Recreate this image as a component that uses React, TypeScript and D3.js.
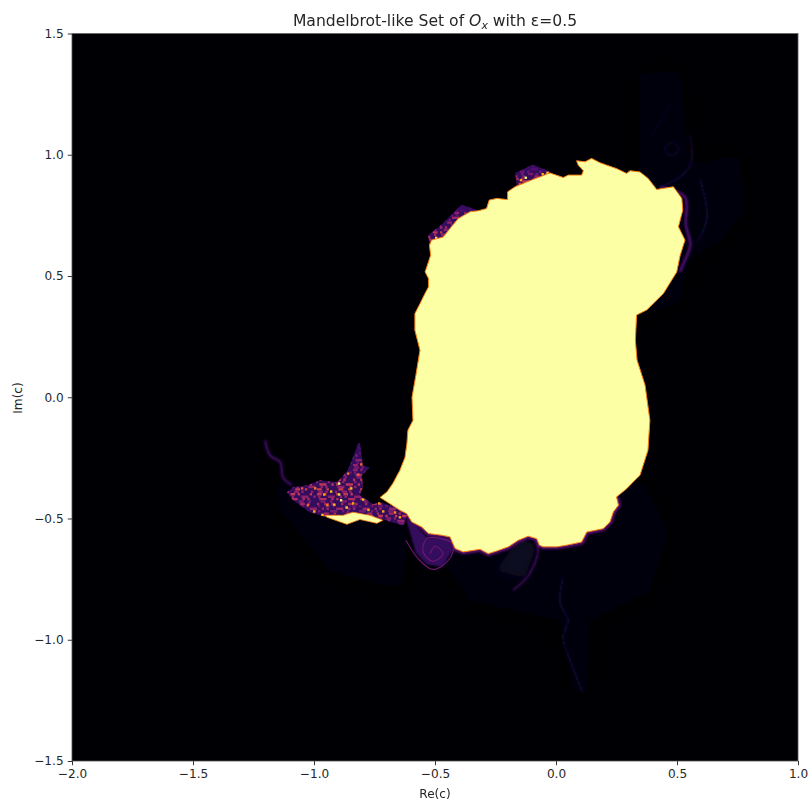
import * as d3 from "d3";
import { useEffect, useRef } from "react";

type Pt = number[];

const xTicks = [-2.0, -1.5, -1.0, -0.5, 0.0, 0.5, 1.0];
const yTicks = [-1.5, -1.0, -0.5, 0.0, 0.5, 1.0, 1.5];

// main filled body, [re, im]
const bodyOutline: Pt[] = [
  [0.085, 0.975], [0.12, 0.971], [0.147, 0.985], [0.182, 0.967], [0.21, 0.957], [0.25, 0.943],
  [0.292, 0.923], [0.306, 0.934], [0.347, 0.929], [0.381, 0.902], [0.416, 0.857], [0.485, 0.868],
  [0.52, 0.82], [0.524, 0.772], [0.506, 0.703], [0.533, 0.648], [0.513, 0.585], [0.499, 0.517],
  [0.444, 0.428], [0.375, 0.36], [0.333, 0.339], [0.328, 0.235], [0.335, 0.153], [0.368, 0.05],
  [0.388, -0.095], [0.38, -0.219], [0.347, -0.322], [0.326, -0.342], [0.292, -0.377], [0.25, -0.411],
  [0.258, -0.445], [0.237, -0.473], [0.223, -0.514], [0.195, -0.542], [0.127, -0.556], [0.106, -0.597],
  [0.044, -0.61], [0.003, -0.617], [-0.053, -0.617], [-0.069, -0.61], [-0.08, -0.583], [-0.115, -0.573],
  [-0.156, -0.59], [-0.197, -0.617], [-0.245, -0.634], [-0.28, -0.645], [-0.314, -0.627], [-0.383, -0.638],
  [-0.417, -0.624], [-0.438, -0.576], [-0.473, -0.569], [-0.527, -0.562], [-0.555, -0.535], [-0.596, -0.514],
  [-0.617, -0.48], [-0.645, -0.466], [-0.727, -0.413], [-0.698, -0.39], [-0.674, -0.355], [-0.645, -0.301],
  [-0.624, -0.248], [-0.616, -0.19], [-0.612, -0.136], [-0.591, -0.095], [-0.595, 0.0], [-0.579, 0.091],
  [-0.562, 0.194], [-0.583, 0.276], [-0.583, 0.345], [-0.562, 0.386], [-0.545, 0.421], [-0.527, 0.455],
  [-0.527, 0.49], [-0.541, 0.517], [-0.527, 0.558], [-0.518, 0.586], [-0.523, 0.627], [-0.514, 0.648],
  [-0.466, 0.661], [-0.438, 0.696], [-0.404, 0.737], [-0.355, 0.765], [-0.321, 0.769], [-0.287, 0.778],
  [-0.276, 0.813], [-0.245, 0.82], [-0.2, 0.815], [-0.2, 0.847], [-0.169, 0.868], [-0.121, 0.888],
  [-0.066, 0.909], [-0.025, 0.925], [0.03, 0.906], [0.051, 0.916], [0.106, 0.916], [0.113, 0.934],
  [0.092, 0.957],
];

// the lower rim of the body that glows, same coordinates as above
const bottomRim: Pt[] = bodyOutline.slice(29, 56);

const lensOutline: Pt[] = [
  [-0.955, -0.487], [-0.88, -0.487], [-0.839, -0.474], [-0.769, -0.487], [-0.715, -0.507],
  [-0.74, -0.52], [-0.81, -0.504], [-0.864, -0.524], [-0.946, -0.495],
];

const tailOutline: Pt[] = [
  [-0.81, -0.19], [-0.798, -0.281], [-0.769, -0.29], [-0.802, -0.322], [-0.798, -0.371], [-0.81, -0.404],
  [-0.756, -0.441], [-0.727, -0.433], [-0.657, -0.454], [-0.616, -0.487], [-0.63, -0.53], [-0.715, -0.504],
  [-0.864, -0.495], [-0.946, -0.495], [-1.017, -0.474], [-1.087, -0.425], [-1.112, -0.392],
  [-1.087, -0.371], [-1.025, -0.363], [-0.975, -0.342], [-0.905, -0.351], [-0.86, -0.301], [-0.839, -0.248],
  [-0.818, -0.19],
];
const tailLower: Pt[] = [
  [-0.62, -0.5], [-0.574, -0.536], [-0.533, -0.578], [-0.438, -0.578], [-0.426, -0.63], [-0.47, -0.7],
  [-0.533, -0.69], [-0.58, -0.64], [-0.6, -0.57],
];

const fringeTop: Pt[] = [[-0.169, 0.925], [-0.095, 0.96], [-0.025, 0.93], [-0.037, 0.91], [-0.161, 0.865]];
const fringeLeft: Pt[] = [
  [-0.529, 0.668], [-0.467, 0.718], [-0.39, 0.795], [-0.326, 0.771], [-0.438, 0.66], [-0.521, 0.619],
];

// faint glow regions
const hazeRight: Pt[] = [
  [0.347, 1.33], [0.512, 1.35], [0.554, 0.938], [0.76, 1.02], [0.78, 0.77], [0.68, 0.648],
  [0.55, 0.565], [0.512, 0.4], [0.347, 0.32],
];
const hazeBottom: Pt[] = [
  [-0.645, -0.507], [-0.438, -0.713], [-0.355, -0.837], [0.017, -0.92], [0.058, -1.209], [0.14, -1.209],
  [0.14, -0.92], [0.388, -0.797], [0.471, -0.549], [0.347, -0.342],
];
const hazeTail: Pt[] = [
  [-1.215, -0.157], [-1.099, -0.342], [-0.81, -0.383], [-0.603, -0.549], [-0.645, -0.796],
  [-0.934, -0.714], [-1.14, -0.466],
];
const hazeLobe: Pt[] = [[-0.149, -0.578], [-0.079, -0.611], [-0.128, -0.747], [-0.252, -0.714]];

// thin filaments
const lobeEdge: Pt[] = [[-0.074, -0.602], [-0.079, -0.66], [-0.12, -0.743], [-0.178, -0.796]];
const trailDown: Pt[] = [[0.029, -0.743], [0.017, -0.85], [0.05, -0.92], [0.029, -0.99], [0.07, -1.114], [0.112, -1.221]];
const spiral: Pt[] = [
  [-0.62, -0.59], [-0.57, -0.665], [-0.508, -0.71], [-0.438, -0.664], [-0.426, -0.606], [-0.479, -0.582],
  [-0.533, -0.582], [-0.55, -0.635], [-0.508, -0.677], [-0.467, -0.644], [-0.5, -0.615], [-0.52, -0.644],
];
const topRing: Pt[] = [[0.479, 1.053], [0.508, 1.024], [0.479, 0.995], [0.45, 1.024], [0.479, 1.053]];
const topArc: Pt[] = [[0.554, 1.081], [0.558, 0.965], [0.512, 0.908], [0.43, 0.866]];
const topStrand: Pt[] = [[0.479, 1.213], [0.417, 1.114], [0.388, 1.069]];
const rightEdge: Pt[] = [[0.43, 0.866], [0.533, 0.825], [0.537, 0.71], [0.555, 0.627], [0.524, 0.545], [0.512, 0.516]];
const rightStar: Pt[] = [[0.595, 0.899], [0.624, 0.743], [0.583, 0.635]];
const tailWisp: Pt[] = [[-1.202, -0.177], [-1.182, -0.239], [-1.14, -0.268], [-1.128, -0.33], [-1.091, -0.363]];

// speckle rows clipped to the fringes, [im, value]
const tailRows: Pt[] = [
  [-0.19, 0.22], [-0.2, 0.28], [-0.21, 0.24], [-0.22, 0.3], [-0.23, 0.26], [-0.24, 0.34], [-0.25, 0.3], [-0.26, 0.36],
  [-0.27, 0.3], [-0.28, 0.4], [-0.29, 0.34], [-0.3, 0.38], [-0.31, 0.32], [-0.32, 0.42], [-0.33, 0.36], [-0.34, 0.48],
  [-0.35, 0.38], [-0.36, 0.5], [-0.37, 0.4], [-0.38, 0.54], [-0.39, 0.38], [-0.4, 0.5], [-0.41, 0.38], [-0.42, 0.46],
  [-0.43, 0.34], [-0.44, 0.44], [-0.45, 0.3], [-0.46, 0.4], [-0.47, 0.32], [-0.48, 0.44], [-0.49, 0.5], [-0.5, 0.36],
  [-0.51, 0.4], [-0.52, 0.34],
];
const topRows: Pt[] = [
  [0.87, 0.62], [0.88, 0.56], [0.89, 0.5], [0.9, 0.46], [0.91, 0.4], [0.92, 0.34], [0.93, 0.3], [0.94, 0.24], [0.95, 0.2],
];
const leftRows: Pt[] = [
  [0.62, 0.58], [0.63, 0.52], [0.64, 0.56], [0.65, 0.5], [0.66, 0.46], [0.67, 0.4], [0.68, 0.5], [0.69, 0.36],
  [0.7, 0.44], [0.71, 0.34], [0.72, 0.4], [0.73, 0.3], [0.74, 0.42], [0.75, 0.28], [0.76, 0.38], [0.77, 0.24], [0.78, 0.2],
];
const rowDashes = ["2.4 4.8 4.8 2.4 2.4 7.2", "4.8 2.4 2.4 9.6 2.4 4.8", "2.4 2.4 2.4 7.2 7.2 4.8", "7.2 4.8 2.4 2.4 2.4 9.6", "2.4 9.6 4.8 4.8"];

// bright speckled cells, [re, im, value]
const speckles: Pt[] = [
  [-0.901, -0.351, 0.95], [-0.934, -0.384, 0.85], [-0.963, -0.396, 0.8], [-0.901, -0.396, 0.9], [-0.851, -0.371, 0.85],
  [-0.864, -0.31, 0.7], [-0.81, -0.272, 0.65], [-0.822, -0.314, 0.65], [-1.004, -0.466, 0.8], [-0.921, -0.438, 0.85],
  [-1.0, -0.371, 0.7], [-1.054, -0.371, 0.6], [-0.802, -0.417, 0.85], [-0.843, -0.433, 0.8], [-0.736, -0.433, 0.75],
  [-0.719, -0.466, 0.8], [-0.893, -0.42, 0.95], [-0.95, -0.44, 0.7], [-0.87, -0.45, 0.9], [-0.78, -0.46, 0.8],
  [-0.67, -0.47, 0.75], [-0.65, -0.49, 0.8], [-1.03, -0.44, 0.65], [-0.97, -0.48, 0.85],
  [-0.15, 0.9, 0.8], [-0.13, 0.91, 0.95], [-0.11, 0.895, 0.85], [-0.06, 0.925, 0.8], [-0.08, 0.905, 0.92], [-0.04, 0.93, 0.85],
  [-0.51, 0.64, 0.92], [-0.5, 0.66, 0.97], [-0.49, 0.63, 0.85], [-0.47, 0.65, 0.8], [-0.52, 0.625, 0.9],
  [-0.44, 0.68, 0.75], [-0.42, 0.7, 0.8], [-0.39, 0.74, 0.75], [-0.37, 0.755, 0.75], [-0.35, 0.76, 0.8],
];

const margin = { top: 33.5, right: 10, bottom: 39, left: 72 };
const width = 808;
const height = 800;

const App = () => {
  const ref = useRef<SVGSVGElement>(null);

  useEffect(() => {
    const svg = d3.select(ref.current);
    svg.selectAll("*").remove();

    const xScale = d3.scaleLinear().domain([-2, 1]).range([margin.left, width - margin.right]);
    const yScale = d3.scaleLinear().domain([-1.5, 1.5]).range([height - margin.bottom, margin.top]);
    const color = d3.scaleSequential(d3.interpolateInferno).domain([0, 1]);

    const open = d3.line<Pt>().x((d) => xScale(d[0])).y((d) => yScale(d[1]));
    const closed = d3.line<Pt>().x((d) => xScale(d[0])).y((d) => yScale(d[1])).curve(d3.curveLinearClosed);
    const smooth = d3.line<Pt>().x((d) => xScale(d[0])).y((d) => yScale(d[1])).curve(d3.curveCatmullRom);

    const defs = svg.append("defs");
    ([["soft", 0.5], ["blur1", 0.8], ["blur3", 3], ["blur5", 5], ["blur14", 14]] as [string, number][]).forEach(([id, s]) => {
      defs.append("filter").attr("id", id)
        .attr("x", "-40%").attr("y", "-40%").attr("width", "180%").attr("height", "180%")
        .append("feGaussianBlur").attr("stdDeviation", s);
    });
    const plotW = xScale(1) - xScale(-2);
    const plotH = yScale(-1.5) - yScale(1.5);
    defs.append("clipPath").attr("id", "plot").append("rect")
      .attr("x", xScale(-2)).attr("y", yScale(1.5)).attr("width", plotW).attr("height", plotH);

    const plot = svg.append("g").attr("clip-path", "url(#plot)");

    plot.append("rect")
      .attr("x", xScale(-2)).attr("y", yScale(1.5)).attr("width", plotW).attr("height", plotH)
      .attr("fill", color(0));

    const hazes: [Pt[], number, string][] = [
      [hazeRight, 0.025, "blur14"],
      [hazeBottom, 0.03, "blur14"],
      [hazeTail, 0.025, "blur14"],
      [hazeLobe, 0.06, "blur5"],
    ];
    hazes.forEach(([pts, v, f]) => {
      plot.append("path").attr("d", closed(pts)).attr("fill", color(v)).attr("filter", `url(#${f})`);
    });

    const filaments: [Pt[], number, number][] = [
      [lobeEdge, 0.26, 1.4],
      [trailDown, 0.08, 2],
      [topRing, 0.09, 1.2],
      [topArc, 0.1, 1.5],
      [topStrand, 0.06, 1.5],
      [rightEdge, 0.22, 3],
      [rightStar, 0.08, 2],
      [tailWisp, 0.2, 2.4],
    ];
    filaments.forEach(([pts, v, w]) => {
      plot.append("path").attr("d", smooth(pts)).attr("fill", "none")
        .attr("stroke", color(v)).attr("stroke-width", w).attr("filter", "url(#blur1)");
    });

    plot.append("path").attr("d", open(bottomRim)).attr("fill", "none")
      .attr("stroke", color(0.25)).attr("stroke-width", 5).attr("filter", "url(#blur1)");

    plot.append("path").attr("d", closed(tailLower)).attr("fill", color(0.17)).attr("filter", "url(#blur1)");
    plot.append("path").attr("d", smooth(spiral)).attr("fill", "none")
      .attr("stroke", color(0.3)).attr("stroke-width", 1.2);

    // speckle fringes: dim base, then broken rows of cells clipped to each outline
    const regions: [string, Pt[], Pt[]][] = [
      ["tail", tailOutline, tailRows],
      ["top", fringeTop, topRows],
      ["left", fringeLeft, leftRows],
    ];
    const cell = xScale(0.01) - xScale(0);
    const speckleLayer = plot.append("g").attr("filter", "url(#soft)");
    regions.forEach(([id, outline, rows]) => {
      defs.append("clipPath").attr("id", `clip-${id}`).append("path").attr("d", closed(outline));
      speckleLayer.append("path").attr("d", closed(outline)).attr("fill", color(0.17));
      const [x0, x1] = d3.extent(outline, (d) => d[0]) as [number, number];
      speckleLayer.append("g").attr("clip-path", `url(#clip-${id})`)
        .selectAll("line").data(rows).join("line")
        .attr("x1", xScale(x0)).attr("x2", xScale(x1))
        .attr("y1", (d) => yScale(d[0])).attr("y2", (d) => yScale(d[0]))
        .attr("stroke", (d) => color(d[1]))
        .attr("stroke-width", cell)
        .attr("stroke-dasharray", (_, i) => rowDashes[i % rowDashes.length])
        .attr("stroke-dashoffset", (_, i) => i * 3.6);
    });

    speckleLayer.append("g").selectAll("rect").data(speckles).join("rect")
      .attr("x", (d) => xScale(d[0]))
      .attr("y", (d) => yScale(d[1]))
      .attr("width", cell).attr("height", cell)
      .attr("fill", (d) => color(d[2]));

    plot.append("path").attr("d", closed(bodyOutline)).attr("fill", color(1))
      .attr("stroke", color(0.72)).attr("stroke-width", 1);
    plot.append("path").attr("d", closed(lensOutline)).attr("fill", color(1))
      .attr("stroke", color(0.72)).attr("stroke-width", 0.8);

    const fmt = (d: d3.NumberValue) => d3.format(".1f")(d).replace("-", "\u2212");

    const xAxis = d3.axisBottom(xScale).tickValues(xTicks).tickFormat(fmt).tickSize(4.2).tickPadding(4.2).tickSizeOuter(0);
    const yAxis = d3.axisLeft(yScale).tickValues(yTicks).tickFormat(fmt).tickSize(4.2).tickPadding(4.2).tickSizeOuter(0);

    const gx = svg.append("g").attr("transform", `translate(0,${height - margin.bottom})`).call(xAxis);
    const gy = svg.append("g").attr("transform", `translate(${margin.left},0)`).call(yAxis);
    [gx, gy].forEach((g) => {
      g.selectAll("text").attr("font-family", "'DejaVu Sans'").attr("font-size", 12.1).attr("fill", "#262626");
      g.selectAll("line").attr("stroke", "#000").attr("stroke-width", 0.8);
      g.select(".domain").remove();
    });

    svg.append("rect")
      .attr("x", xScale(-2)).attr("y", yScale(1.5)).attr("width", plotW).attr("height", plotH)
      .attr("fill", "none").attr("stroke", "#555").attr("stroke-width", 0.8);

    const labels = svg.append("g").attr("font-family", "'DejaVu Sans'").attr("fill", "#262626");
    labels.append("text").attr("x", 435).attr("y", 798).attr("text-anchor", "middle").attr("font-size", 12.1).text("Re(c)");
    labels.append("text").attr("transform", "translate(22,398) rotate(-90)").attr("text-anchor", "middle").attr("font-size", 12.1).text("Im(c)");

    const title = labels.append("text").attr("x", 435).attr("y", 26).attr("text-anchor", "middle").attr("font-size", 15.6);
    title.append("tspan").text("Mandelbrot-like Set of ");
    title.append("tspan").attr("font-style", "italic").text("O");
    title.append("tspan").attr("font-style", "italic").attr("font-size", 10.9).attr("dy", 2.6).text("x");
    title.append("tspan").attr("dy", -2.6).text(" with \u03b5=0.5");
  }, []);

  return (
    <svg ref={ref} width={width} height={height} style={{ position: "absolute", left: 0, top: 0 }} />
  );
};

export default App;
